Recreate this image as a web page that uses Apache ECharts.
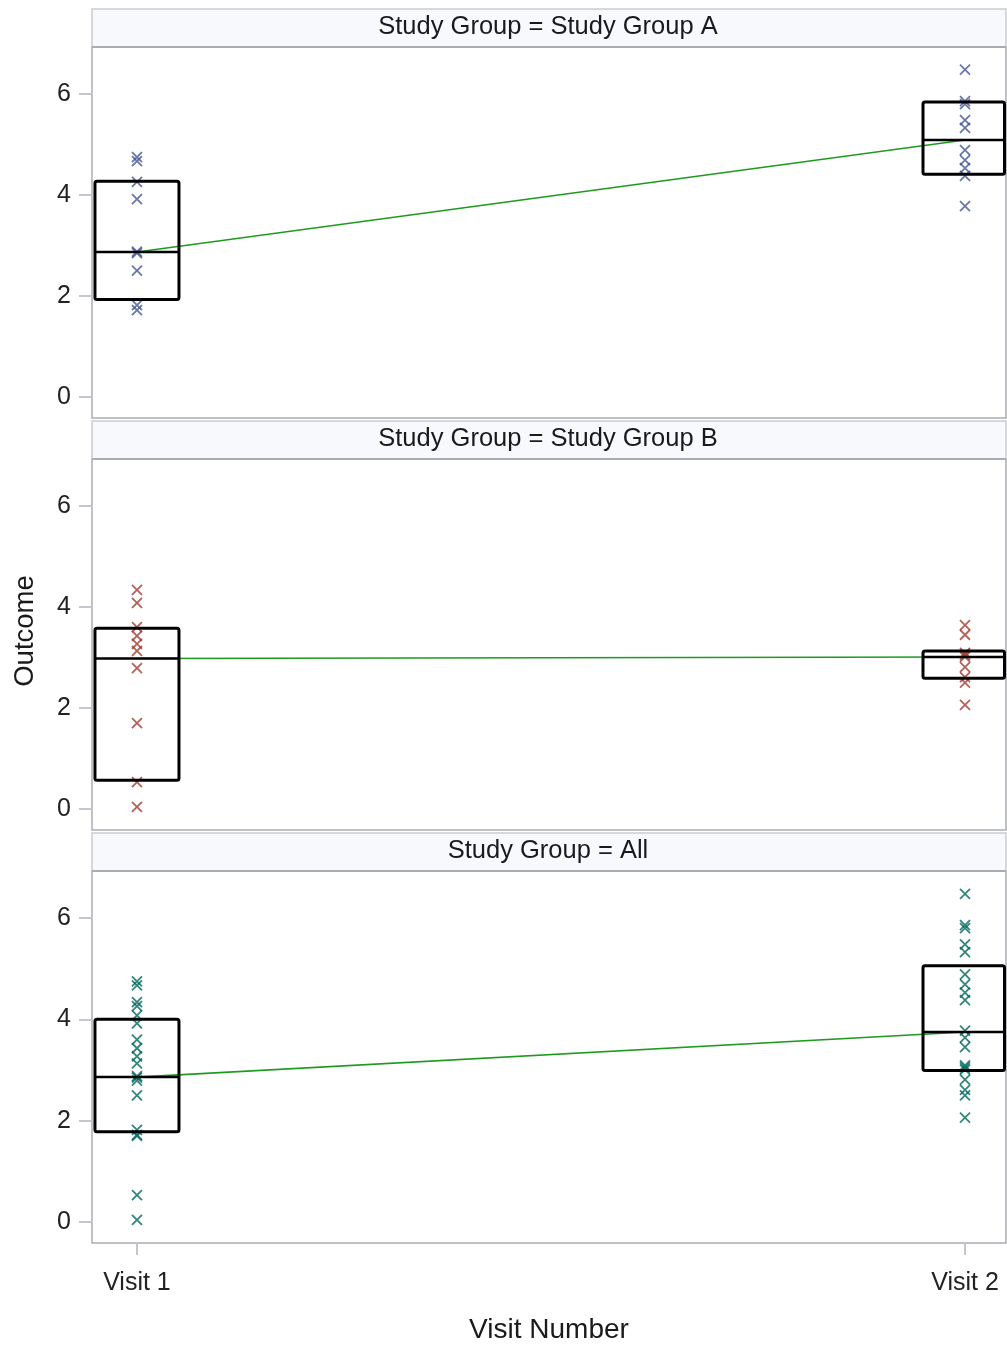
<!DOCTYPE html>
<html>
<head>
<meta charset="utf-8">
<title>Outcome by Visit Number</title>
<script src="https://cdn.jsdelivr.net/npm/echarts@6/dist/echarts.min.js"></script>
<style>
  html, body { margin: 0; padding: 0; background: #ffffff; }
  #chart { width: 1007px; height: 1345px; }
</style>
</head>
<body>
<div id="chart"></div>
<script>
// Visit categories and panel titles
const categories = ['Visit 1', 'Visit 2'];
const panelTitles = ['Study Group = Study Group A', 'Study Group = Study Group B', 'Study Group = All'];
const yTicks = [0, 2, 4, 6];

// Individual outcomes per study group and visit
const groupA_visit1 = [4.75, 4.67, 4.26, 3.92, 2.88, 2.85, 2.50, 1.82, 1.72];
const groupA_visit2 = [6.48, 5.86, 5.80, 5.48, 5.33, 4.89, 4.69, 4.53, 4.38, 3.78];
const groupB_visit1 = [4.34, 4.08, 3.60, 3.43, 3.27, 3.13, 2.79, 1.70, 0.53, 0.04];
const groupB_visit2 = [3.64, 3.45, 3.09, 3.05, 3.01, 2.81, 2.61, 2.50, 2.06];
const all_visit1 = groupA_visit1.concat(groupB_visit1);
const all_visit2 = groupA_visit2.concat(groupB_visit2);

// Box statistics per visit: [Q1, median, Q3]
const boxA = [[1.93, 2.87, 4.27], [4.41, 5.09, 5.84]];
const boxB = [[0.57, 2.98, 3.58], [2.59, 3.01, 3.13]];
const boxAll = [[1.78, 2.86, 4.00], [2.99, 3.75, 5.06]];

const panels = [
  { title: panelTitles[0], points: [groupA_visit1, groupA_visit2], box: boxA, color: '#445694' },
  { title: panelTitles[1], points: [groupB_visit1, groupB_visit2], box: boxB, color: '#A23A2E' },
  { title: panelTitles[2], points: [all_visit1, all_visit2], box: boxAll, color: '#01665E' }
];

const FONT = 'Liberation Sans, Arial, sans-serif';
const AXIS_GREY = '#a9adb2';
const GRID_LEFT = 92;
const GRID_WIDTH = 914;
const gridTops = [47, 459, 871];
const gridHeights = [371, 371, 372];
const HEADER_H = 38;

const chart = echarts.init(document.getElementById('chart'), null, { renderer: 'canvas' });

const grids = [], xAxes = [], yAxes = [], series = [], graphics = [];

panels.forEach((p, i) => {
  const isLast = i === panels.length - 1;
  grids.push({
    left: GRID_LEFT, top: gridTops[i], width: GRID_WIDTH, height: gridHeights[i],
    show: true, borderColor: AXIS_GREY, borderWidth: 1.5, backgroundColor: '#ffffff'
  });
  xAxes.push({
    gridIndex: i, type: 'value', min: 0.9457, max: 2.0495, position: 'bottom',
    axisLine: { show: false, onZero: false },
    splitLine: { show: false },
    axisTick: { show: isLast, customValues: [1, 2], length: 12, lineStyle: { color: '#c4c6c9', width: 2 } },
    axisLabel: {
      show: isLast, customValues: [1, 2], margin: 28,
      formatter: v => categories[Math.round(v) - 1],
      fontFamily: FONT, fontSize: 25, color: '#222222'
    }
  });
  yAxes.push({
    gridIndex: i, type: 'value', min: -0.416, max: 6.93,
    axisLine: { show: false, onZero: false },
    splitLine: { show: false },
    axisTick: { show: true, customValues: yTicks, length: 13, lineStyle: { color: '#c4c6c9', width: 2 } },
    axisLabel: { customValues: yTicks, margin: 21, fontFamily: FONT, fontSize: 25, color: '#222222' }
  });

  // median trend line between visits
  series.push({
    type: 'line', xAxisIndex: i, yAxisIndex: i, z: 2,
    data: [[1, p.box[0][1]], [2, p.box[1][1]]],
    symbol: 'none', silent: true,
    lineStyle: { color: '#1f9a1f', width: 1.6 }
  });

  // individual observations
  const pts = [];
  p.points.forEach((arr, k) => arr.forEach(v => pts.push([k + 1, v])));
  series.push({
    type: 'scatter', xAxisIndex: i, yAxisIndex: i, z: 3,
    data: pts,
    symbol: 'path://M0,0L10,10M10,0L0,10',
    symbolSize: 10,
    itemStyle: { color: 'transparent', borderColor: p.color, borderWidth: 1.8, opacity: 0.8 }
  });

  // interquartile boxes with median bar
  series.push({
    type: 'custom', xAxisIndex: i, yAxisIndex: i, z: 4, silent: true,
    data: p.box.map((b, k) => [k + 1, b[0], b[1], b[2]]),
    renderItem: (params, api) => {
      const x = api.value(0);
      const lo = api.coord([x, api.value(1)]);
      const md = api.coord([x, api.value(2)]);
      const hi = api.coord([x, api.value(3)]);
      const cs = params.coordSys;
      const half = 42;
      const left = Math.max(lo[0] - half, cs.x + 1.5);
      const right = Math.min(lo[0] + half, cs.x + cs.width - 1.5);
      return {
        type: 'group',
        children: [
          {
            type: 'rect',
            shape: { x: left, y: hi[1], width: right - left, height: lo[1] - hi[1], r: 2 },
            style: { fill: 'none', stroke: '#000000', lineWidth: 3, lineJoin: 'round' }
          },
          {
            type: 'line',
            shape: { x1: left, y1: md[1], x2: right, y2: md[1] },
            style: { stroke: '#000000', lineWidth: 2.5 }
          }
        ]
      };
    }
  });

  // panel header strip
  graphics.push({
    type: 'rect', z: 10,
    shape: { x: GRID_LEFT, y: gridTops[i] - HEADER_H, width: GRID_WIDTH, height: HEADER_H },
    style: { fill: '#f8f9fd', stroke: '#c9cbce', lineWidth: 1.5 }
  });
  graphics.push({
    type: 'line', z: 11,
    shape: { x1: GRID_LEFT, y1: gridTops[i], x2: GRID_LEFT + GRID_WIDTH, y2: gridTops[i] },
    style: { stroke: AXIS_GREY, lineWidth: 2 }
  });
  graphics.push({
    type: 'text', z: 12,
    x: GRID_LEFT + GRID_WIDTH / 2 - 1, y: gridTops[i] - HEADER_H / 2 - 1,
    style: {
      text: p.title, fontFamily: FONT, fontSize: 25.5, fill: '#1a1a1a',
      align: 'center', verticalAlign: 'middle'
    }
  });
});

// shared axis titles
graphics.push({
  type: 'text', z: 12, x: 25, y: 631, rotation: Math.PI / 2,
  style: { text: 'Outcome', fontFamily: FONT, fontSize: 27.5, fill: '#1a1a1a', align: 'center', verticalAlign: 'middle' }
});
graphics.push({
  type: 'text', z: 12, x: GRID_LEFT + GRID_WIDTH / 2, y: 1330,
  style: { text: 'Visit Number', fontFamily: FONT, fontSize: 28, fill: '#1a1a1a', align: 'center', verticalAlign: 'middle' }
});

chart.setOption({
  animation: false,
  grid: grids,
  xAxis: xAxes,
  yAxis: yAxes,
  series: series,
  graphic: graphics
});
</script>
</body>
</html>
